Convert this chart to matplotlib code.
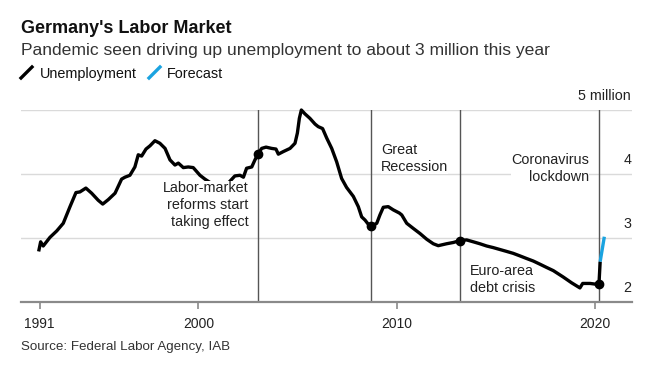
"""
Germany's labor market -- unemployment since reunification
with the IAB forecast for the pandemic year.
"""

import matplotlib

matplotlib.use("Agg")
import matplotlib.pyplot as plt
import matplotlib.transforms as mtransforms
from matplotlib.lines import Line2D

plt.rcParams["font.family"] = ["Liberation Sans", "DejaVu Sans"]

# Unemployment, millions
years = [
    1991.95, 1992.05, 1992.18, 1992.52, 1992.86, 1993.19, 1993.53, 1993.83,
    1994.03, 1994.33, 1994.62, 1994.95, 1995.18, 1995.46, 1995.80, 1996.13,
    1996.30, 1996.55, 1996.80, 1996.97, 1997.14, 1997.36, 1997.56, 1997.81,
    1998.06, 1998.32, 1998.57, 1998.82, 1998.99, 1999.24, 1999.49, 1999.74,
    2000.08, 2000.33, 2000.67, 2000.90, 2001.20, 2001.45, 2001.63, 2001.84,
    2002.10, 2002.27, 2002.43, 2002.69, 2002.85, 2003.02, 2003.19, 2003.41,
    2003.69, 2003.91, 2004.03, 2004.28, 2004.62, 2004.87, 2004.99, 2005.09,
    2005.19, 2005.37, 2005.62, 2005.88, 2006.04, 2006.26, 2006.47, 2006.72,
    2006.97, 2007.22, 2007.47, 2007.81, 2008.06, 2008.23, 2008.40, 2008.55,
    2008.70, 2008.99, 2009.15, 2009.32, 2009.57, 2009.82, 2010.13, 2010.25,
    2010.50, 2010.83, 2011.17, 2011.51, 2011.84, 2012.09, 2012.51, 2012.85,
    2013.19, 2013.52, 2013.86, 2014.19, 2014.53, 2014.86, 2015.20, 2015.54,
    2015.87, 2016.21, 2016.54, 2016.88, 2017.22, 2017.55, 2017.89, 2018.39,
    2018.81, 2019.23, 2019.37, 2019.74, 2019.99, 2020.19, 2020.25,
]
unemployment = [
    2.79, 2.94, 2.875, 3.01, 3.11, 3.23, 3.49, 3.71,
    3.72, 3.78, 3.70, 3.59, 3.53, 3.60, 3.70, 3.92,
    3.95, 3.98, 4.11, 4.30, 4.28, 4.39, 4.44, 4.52,
    4.48, 4.40, 4.22, 4.14, 4.17, 4.10, 4.11, 4.10,
    3.98, 3.92, 3.85, 3.82, 3.80, 3.84, 3.90, 3.97,
    3.98, 3.95, 4.09, 4.11, 4.22, 4.32, 4.40, 4.42,
    4.40, 4.39, 4.31, 4.35, 4.40, 4.48, 4.64, 4.87,
    5.00, 4.94, 4.87, 4.78, 4.74, 4.71, 4.56, 4.40,
    4.19, 3.93, 3.79, 3.65, 3.49, 3.33, 3.28, 3.22,
    3.18, 3.23, 3.36, 3.48, 3.49, 3.44, 3.39, 3.36,
    3.23, 3.15, 3.07, 2.98, 2.91, 2.88, 2.91, 2.93,
    2.96, 2.97, 2.94, 2.91, 2.875, 2.85, 2.82, 2.79,
    2.76, 2.72, 2.68, 2.64, 2.59, 2.54, 2.49, 2.39,
    2.30, 2.22, 2.29, 2.29, 2.28, 2.28, 2.63,
]

forecast_years = [2020.25, 2020.46]
forecast_values = [2.63, 3.02]

# Events marked on the chart
event_years = [2003.02, 2008.70, 2013.19, 2020.19]
event_values = [4.32, 3.18, 2.96, 2.28]
event_labels = [
    "Labor-market\nreforms start\ntaking effect",
    "Great\nRecession",
    "Euro-area\ndebt crisis",
    "Coronavirus\nlockdown",
]
# label block centre (millions) and side of the event line
label_y = [3.52, 4.24, 2.35, 4.09]
label_side = ["left", "right", "right", "left"]
label_masks = [True, True, False, True]

x_ticks = [1992.0, 2000, 2010, 2020]
x_tick_labels = ["1991", "2000", "2010", "2020"]
y_ticks = [2, 3, 4, 5]
y_tick_labels = ["2", "3", "4", "5 million"]

BLACK = "#000000"
BLUE = "#1aa3e0"
GRID = "#dadada"
AXIS = "#8a8a8a"
EVENT = "#555555"

W, H = 659, 373


def fx(px):
    return px / W


def fy(py):
    return 1 - py / H


fig = plt.figure(figsize=(W / 100, H / 100), dpi=100)
ax = fig.add_axes([fx(21), fy(302), (632 - 21) / W, (302 - 110) / H])

ax.set_xlim(1991.06, 2021.855)
ax.set_ylim(2, 5)

# grid lines
for v in y_ticks[1:]:
    ax.axhline(v, color=GRID, lw=1.0, zorder=0)

# event lines
for yr in event_years:
    ax.axvline(yr, color=EVENT, lw=1.0, zorder=1)

ax.plot(years, unemployment, color=BLACK, lw=2.4, zorder=3,
        solid_joinstyle="round", solid_capstyle="butt", clip_on=False)
ax.plot(forecast_years, forecast_values, color=BLUE, lw=2.4, zorder=3,
        solid_capstyle="butt", clip_on=False)
ax.plot(event_years, event_values, "o", color=BLACK, ms=6, zorder=4,
        clip_on=False)

# event labels, 10px from the line, white backing where they cross marks
for yr, lab, ly, side, mask in zip(event_years, event_labels, label_y,
                                   label_side, label_masks):
    dx = -10 if side == "left" else 10
    ha = "right" if side == "left" else "left"
    tr = mtransforms.offset_copy(ax.transData, fig=fig, x=dx, y=0,
                                 units="dots")
    bbox = dict(facecolor="white", edgecolor="none", pad=0.0) if mask else None
    ax.text(yr, ly, lab, transform=tr, ha=ha, va="center", multialignment=ha,
            fontsize=10.4, color="#222222", linespacing=1.28, zorder=5,
            bbox=bbox)

# y labels sit above their grid line at the right edge
ylab_tr = mtransforms.offset_copy(
    mtransforms.blended_transform_factory(ax.transAxes, ax.transData),
    fig=fig, x=-1, y=13.5, units="dots")
for v, lab in zip(y_ticks, y_tick_labels):
    ax.text(1.0, v, lab, transform=ylab_tr, ha="right", va="center",
            fontsize=10.3, color="#222222")

ax.set_yticks([])
ax.set_xticks(x_ticks)
ax.set_xticklabels(x_tick_labels)
ax.tick_params(axis="x", length=5, width=1.2, color=AXIS, pad=6,
               labelsize=10, labelcolor="#222222")
for s in ["top", "right", "left"]:
    ax.spines[s].set_visible(False)
ax.spines["bottom"].set_color(AXIS)
ax.spines["bottom"].set_linewidth(1.6)
ax.spines["bottom"].set_zorder(2)

# header
fig.text(fx(21), fy(33), "Germany's Labor Market", fontsize=13,
         fontweight="bold", va="baseline", ha="left", color="#111111")
fig.text(fx(21), fy(55),
         "Pandemic seen driving up unemployment to about 3 million this year",
         fontsize=12.6, va="baseline", ha="left", color="#333333")

# legend
fig.add_artist(Line2D([fx(21), fx(32)], [fy(78), fy(67)], color=BLACK,
                      lw=2.4, transform=fig.transFigure))
fig.text(fx(40), fy(78), "Unemployment", fontsize=10.4, va="baseline",
         ha="left", color="#111111")
fig.add_artist(Line2D([fx(149), fx(160)], [fy(78), fy(67)], color=BLUE,
                      lw=2.4, transform=fig.transFigure))
fig.text(fx(167), fy(78), "Forecast", fontsize=10.4, va="baseline",
         ha="left", color="#111111")

# source
fig.text(fx(21), fy(350), "Source: Federal Labor Agency, IAB", fontsize=9.6,
         va="baseline", ha="left", color="#333333")

plt.savefig("out.png", dpi=100)
plt.close()
